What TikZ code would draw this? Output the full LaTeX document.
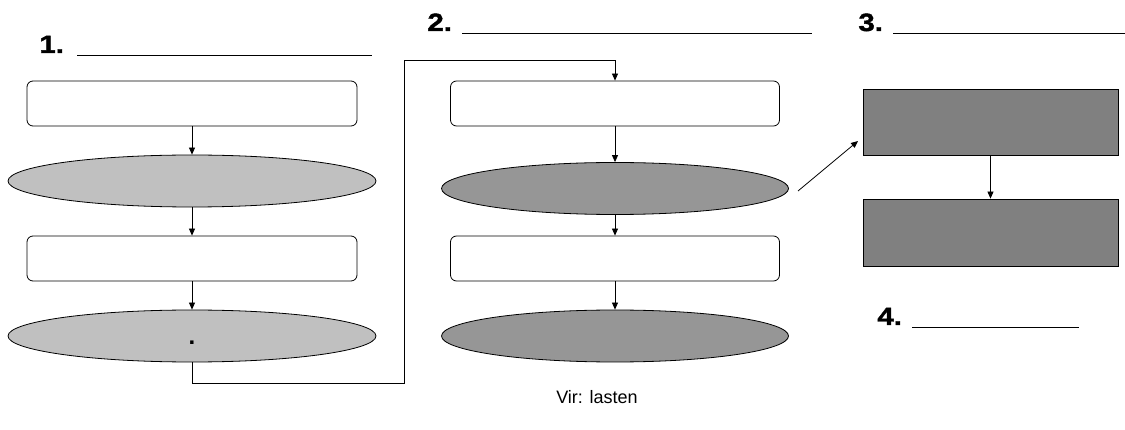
\documentclass[tikz,border=0pt]{standalone}
\usepackage{fontspec}
\setmainfont{Liberation Sans}
\newfontfamily\heavyfont{Liberation Sans}[BoldFeatures={FakeBold=1.6, FakeStretch=1.18}]
\usepackage{xcolor}
\usetikzlibrary{positioning, shapes.geometric, arrows.meta}

\definecolor{lgray}{HTML}{C0C0C0}
\definecolor{mgray}{HTML}{969696}
\definecolor{dgray}{HTML}{808080}

\begin{document}
\begin{tikzpicture}[x=1pt, y=-1pt,
    line width=0.8pt,
    >={Triangle[length=7pt, width=6pt]},
    rbox/.style={draw, rounded corners=6pt, minimum width=330pt, minimum height=45pt, inner sep=0pt},
    ell/.style={draw, ellipse, inner sep=0pt, minimum width=#1, minimum height=52pt},
    gbox/.style={draw, fill=dgray, minimum width=255pt, minimum height=66pt, inner sep=0pt},
    num/.style={anchor=base west, inner sep=0pt, font=\fontsize{25}{25}\heavyfont\bfseries}
]
    \useasboundingbox (0,0) rectangle (1125,430);

    % column 1
    \node[rbox] (b1) at (192,103.5) {};
    \node[ell=368pt, fill=lgray] (e1) at (192,181) {};
    \node[rbox] (b2) at (192,258.5) {};
    \node[ell=368pt, fill=lgray] (e2) at (192,336) {};
    \node[inner sep=0pt, anchor=base, font=\fontsize{24}{24}\selectfont\bfseries] (dot) at (192,345) {.};

    % column 2
    \node[rbox, minimum width=329pt] (b3) at (615,103.5) {};
    \node[ell=347pt, fill=mgray] (e3) at (615,188.5) {};
    \node[rbox, minimum width=329pt] (b4) at (615,258.5) {};
    \node[ell=347pt, fill=mgray] (e4) at (615,336) {};

    % column 3
    \node[gbox] (g1) at (990.5,122) {};
    \node[gbox, minimum height=67pt] (g2) at (990.5,232.5) {};

    % vertical arrows
    \foreach \a/\b in {b1/e1, e1/b2, b2/e2, b3/e3, e3/b4, b4/e4, g1/g2}
    {
        \draw[->] (\a.south) -- (\b.north);
    }

    % loop from column 1 to column 2
    \coordinate (c1) at (404,383);
    \coordinate (c2) at (404,60);
    \draw[->] (e2.south) |- (c1) -- (c2) -| (b3.north);

    % arrow to column 3
    \coordinate (s1) at (798,191);
    \coordinate (s2) at (858,141);
    \draw[->] (s1) -- (s2);

    % headings
    \node[num] (n1) at (39,53) {1.};
    \draw (77,55) -- (372,55);
    \node[num] (n2) at (427,31) {2.};
    \draw (462,33) -- (812,33);
    \node[num] (n3) at (858,31) {3.};
    \draw (893,33) -- (1125,33);
    \node[num] (n4) at (877,325) {4.};
    \draw (912,327) -- (1079,327);

    % source
    \node[font=\fontsize{18}{18}\selectfont] (src) at (597,397) {Vir: lasten};
\end{tikzpicture}
\end{document}
